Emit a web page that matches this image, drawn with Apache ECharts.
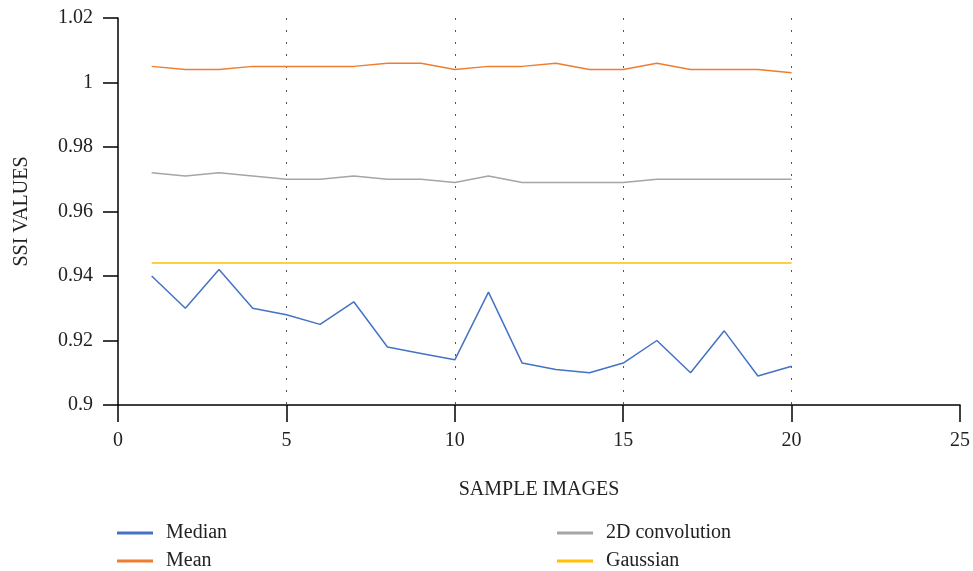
<!DOCTYPE html>
<html lang="en">
<head>
    <meta charset="UTF-8">
    <title>ssi-values</title>
    <script src="https://cdn.jsdelivr.net/npm/echarts@6/dist/echarts.min.js"></script>
</head>
<body style="margin:0;background:#fff;">
<div id="main" style="width: 973px;height:571px;"></div>
<script>
    // sample image index 1..20
    var samples = [1, 2, 3, 4, 5, 6, 7, 8, 9, 10, 11, 12, 13, 14, 15, 16, 17, 18, 19, 20];
    var median = [0.940, 0.930, 0.942, 0.930, 0.928, 0.925, 0.932, 0.918, 0.916, 0.914,
        0.935, 0.913, 0.911, 0.910, 0.913, 0.920, 0.910, 0.923, 0.909, 0.912];
    var mean = [1.005, 1.004, 1.004, 1.005, 1.005, 1.005, 1.005, 1.006, 1.006, 1.004,
        1.005, 1.005, 1.006, 1.004, 1.004, 1.006, 1.004, 1.004, 1.004, 1.003];
    var conv2d = [0.972, 0.971, 0.972, 0.971, 0.970, 0.970, 0.971, 0.970, 0.970, 0.969,
        0.971, 0.969, 0.969, 0.969, 0.969, 0.970, 0.970, 0.970, 0.970, 0.970];
    var gaussian = [0.944, 0.944, 0.944, 0.944, 0.944, 0.944, 0.944, 0.944, 0.944, 0.944,
        0.944, 0.944, 0.944, 0.944, 0.944, 0.944, 0.944, 0.944, 0.944, 0.944];

    function pairs(vals) {
        return samples.map(function (s, i) { return [s, vals[i]]; });
    }

    var font = 'Liberation Serif';
    var chart = echarts.init(document.getElementById('main'));

    function lineSeries(name, vals, color) {
        return {
            name: name,
            type: 'line',
            data: pairs(vals),
            symbol: 'none',
            lineStyle: {color: color, width: 1.5},
            itemStyle: {color: color}
        };
    }

    var legendText = {color: '#222', fontFamily: font, fontSize: 20, padding: [0, 0, 0, 8]};

    option = {
        backgroundColor: '#fff',
        animation: false,
        grid: {left: 118, right: 9, top: 18, bottom: 166},
        legend: [{
            data: ['Median', 'Mean'],
            orient: 'vertical',
            left: 117,
            top: 523,
            height: 60,
            padding: 0,
            icon: 'rect',
            itemWidth: 36,
            itemHeight: 3,
            itemGap: 8,
            textStyle: legendText
        }, {
            data: ['2D convolution', 'Gaussian'],
            orient: 'vertical',
            left: 557,
            top: 523,
            height: 60,
            padding: 0,
            icon: 'rect',
            itemWidth: 36,
            itemHeight: 3,
            itemGap: 8,
            textStyle: legendText
        }],
        xAxis: {
            type: 'value',
            min: 0,
            max: 25,
            interval: 5,
            name: 'SAMPLE IMAGES',
            nameLocation: 'middle',
            nameGap: 75,
            nameTextStyle: {color: '#222', fontFamily: font, fontSize: 20},
            axisLine: {lineStyle: {color: '#000', width: 1.5}},
            axisTick: {length: 17, lineStyle: {color: '#000', width: 1.5}},
            axisLabel: {color: '#222', fontFamily: font, fontSize: 20, margin: 26},
            splitLine: {
                show: true,
                showMinLine: false,
                showMaxLine: false,
                lineStyle: {color: '#555', width: 1, type: [2, 10]}
            }
        },
        yAxis: {
            type: 'value',
            min: 0.9,
            max: 1.02,
            interval: 0.02,
            name: 'SSI VALUES',
            nameLocation: 'middle',
            nameGap: 86,
            nameTextStyle: {color: '#222', fontFamily: font, fontSize: 20},
            axisLine: {show: true, lineStyle: {color: '#000', width: 1.5}},
            axisTick: {show: true, length: 15, lineStyle: {color: '#000', width: 1.5}},
            axisLabel: {color: '#222', fontFamily: font, fontSize: 20, margin: 25},
            splitLine: {show: false}
        },
        series: [
            lineSeries('Median', median, '#4472C4'),
            lineSeries('Mean', mean, '#ED7D31'),
            lineSeries('2D convolution', conv2d, '#A5A5A5'),
            lineSeries('Gaussian', gaussian, '#FFC000')
        ]
    };
    chart.setOption(option);
</script>
</body>
</html>
